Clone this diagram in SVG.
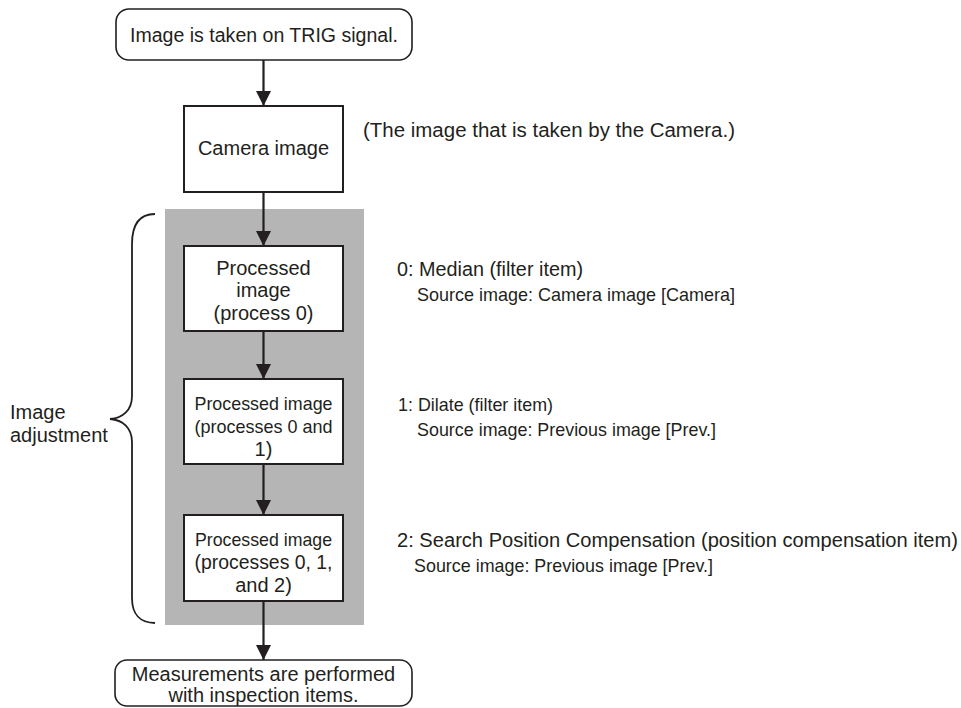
<svg xmlns="http://www.w3.org/2000/svg" width="961" height="708" viewBox="0 0 961 708">
<style>
text{font-family:"Liberation Sans",Arial,Helvetica,sans-serif;font-size:20px;fill:#231f20}
.c{text-anchor:middle}
.s{font-size:18.5px}
.box{fill:#fff;stroke:#231f20;stroke-width:2}
.rbox{fill:#fff;stroke:#231f20;stroke-width:1.6}
.conn{stroke:#231f20;stroke-width:2.2;fill:none;marker-end:url(#ah)}
</style>
<defs>
<marker id="ah" markerUnits="userSpaceOnUse" markerWidth="16" markerHeight="15" refX="15" refY="7.5" orient="auto">
<path d="M0,0 L15,7.5 L0,15 Z" fill="#231f20"/>
</marker>
</defs>
<rect id="adjust-bg" x="165" y="209" width="199" height="416" fill="#b5b5b6"/>
<g id="brace">
<path d="M155,214 C140,214 132,224 132,244 L132,396 C132,410 123,418 110,419 C123,420 132,428 132,442 L132,598 C132,614 140,623 155,623" fill="none" stroke="#231f20" stroke-width="1.8"/>
<text x="10" y="419">Image</text>
<text x="10" y="442">adjustment</text>
</g>
<g id="connectors">
<line class="conn" x1="263.5" y1="60" x2="263.5" y2="106"/>
<line class="conn" x1="263.5" y1="192" x2="263.5" y2="246"/>
<line class="conn" x1="263.5" y1="331" x2="263.5" y2="379"/>
<line class="conn" x1="263.5" y1="464" x2="263.5" y2="515"/>
<line class="conn" x1="263.5" y1="601" x2="263.5" y2="660"/>
</g>
<g id="trig">
<rect class="rbox" x="116" y="9" width="296" height="51" rx="13"/>
<text class="c" x="264" y="42" textLength="268" lengthAdjust="spacingAndGlyphs">Image is taken on TRIG signal.</text>
</g>
<g id="camera">
<rect class="box" x="184" y="106" width="159" height="86"/>
<text class="c" x="263.5" y="155">Camera image</text>
<text x="363" y="137" textLength="372" lengthAdjust="spacingAndGlyphs">(The image that is taken by the Camera.)</text>
</g>
<g id="proc0">
<rect class="box" x="184" y="246" width="159" height="85"/>
<text class="c" x="263.5" y="275">Processed</text>
<text class="c" x="263.5" y="297">image</text>
<text class="c" x="263.5" y="320">(process 0)</text>
<text x="397" y="276" textLength="186" lengthAdjust="spacingAndGlyphs">0: Median (filter item)</text>
<text class="s" x="417" y="301" textLength="318" lengthAdjust="spacingAndGlyphs">Source image: Camera image [Camera]</text>
</g>
<g id="proc1">
<rect class="box" x="184" y="379" width="159" height="85"/>
<text class="c s" x="263.5" y="410" textLength="138" lengthAdjust="spacingAndGlyphs">Processed image</text>
<text class="c s" x="263.5" y="433" textLength="138" lengthAdjust="spacingAndGlyphs">(processes 0 and</text>
<text class="c" x="263.5" y="456">1)</text>
<text class="s" x="398" y="411" textLength="155" lengthAdjust="spacingAndGlyphs">1: Dilate (filter item)</text>
<text class="s" x="417" y="436" textLength="299" lengthAdjust="spacingAndGlyphs">Source image: Previous image [Prev.]</text>
</g>
<g id="proc2">
<rect class="box" x="184" y="515" width="159" height="86"/>
<text class="c s" x="263.5" y="546" textLength="137" lengthAdjust="spacingAndGlyphs">Processed image</text>
<text class="c" x="263.5" y="569" textLength="138" lengthAdjust="spacingAndGlyphs">(processes 0, 1,</text>
<text class="c" x="263.5" y="592">and 2)</text>
<text x="397" y="547" textLength="561" lengthAdjust="spacingAndGlyphs">2: Search Position Compensation (position compensation item)</text>
<text class="s" x="414" y="572" textLength="299" lengthAdjust="spacingAndGlyphs">Source image: Previous image [Prev.]</text>
</g>
<g id="measure">
<rect class="rbox" x="115" y="660" width="297" height="46" rx="12"/>
<text class="c" x="263.5" y="681">Measurements are performed</text>
<text class="c" x="263.5" y="702">with inspection items.</text>
</g>
</svg>
